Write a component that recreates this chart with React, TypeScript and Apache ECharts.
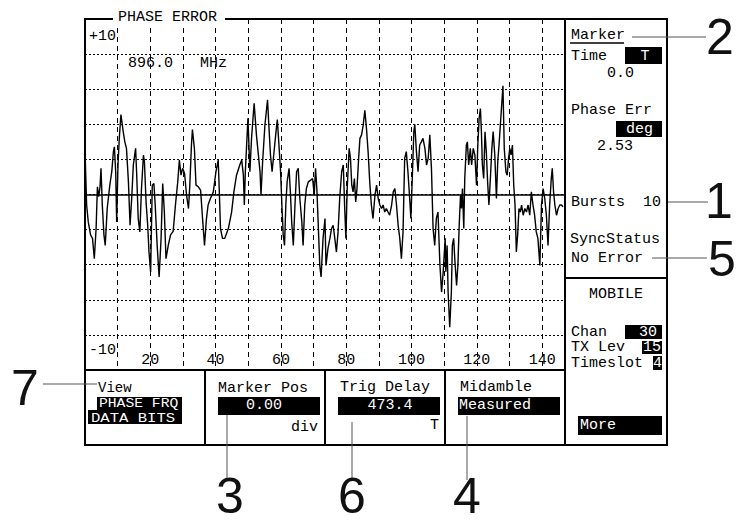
import React, { useEffect, useRef } from "react";
import * as echarts from "echarts";

// ---- data ----
const bitPositions = [
  0, 0.5, 1.0, 1.7, 2.3, 2.85, 3.4, 3.8, 4.2, 4.6, 4.9, 5.3, 5.8, 6.2, 6.8, 7.6, 8.2, 8.7, 9.0, 9.4, 9.7,
  10.1, 10.5, 11.0, 11.7, 12.2, 12.7, 13.3, 13.8, 14.3, 14.8, 15.5, 15.8, 16.3, 16.8, 17.3, 17.9, 18.2,
  18.7, 19.2, 19.6, 20.1, 20.6, 21.1, 21.5, 22.1, 22.7, 23.3, 23.8, 24.3, 24.8, 25.5, 26.2, 27.0, 27.7,
  28.4, 28.9, 29.4, 29.9, 30.5, 31.1, 31.7, 32.1, 32.6, 32.9, 33.5, 34.0, 34.7, 35.4, 36.0, 36.6,
  37.2, 37.7, 38.4, 39.3, 40.1, 40.8, 41.1, 41.5, 42.1, 42.8, 43.9, 44.9, 45.6, 46.4, 47.4, 48.0, 48.5,
  48.8, 49.1, 49.5, 49.9, 50.2, 50.5, 51.0, 51.8, 52.5, 53.0, 53.6, 53.9, 54.4, 55.1, 55.9, 56.3, 56.8,
  57.3, 57.8, 58.5, 58.9, 59.4, 59.9, 60.3, 60.7, 61.1, 61.5, 61.9, 62.5, 62.9, 63.3, 63.8, 64.3, 64.8,
  65.3, 65.8, 66.4, 66.8, 67.3, 67.8, 68.4, 69.1, 69.7, 70.2, 70.6, 71.0, 71.4, 71.9, 72.3, 72.9, 73.5,
  73.8, 74.4, 75.0, 75.5, 76.0, 76.5, 77.0, 77.5, 78.0, 78.6, 79.1, 79.5, 79.9, 80.3, 80.9, 81.3, 81.7,
  82.1, 82.5, 82.9, 83.3, 83.8, 84.2, 84.7, 85.2, 85.7, 86.2, 86.7, 87.2, 87.7, 88.2, 88.8, 89.3, 89.8,
  90.3, 90.8, 91.3, 91.8, 92.3, 92.8, 93.3, 93.9, 94.4, 94.9, 95.4, 95.9, 96.4, 96.9, 97.4, 97.9, 98.4,
  98.9, 99.5, 99.8, 100.3, 100.7, 101.0, 101.5, 102.0, 102.5, 103.0, 103.5, 104.1, 104.6, 105.1, 105.6,
  106.1, 106.6, 107.1, 107.6, 108.1, 108.7, 109.2, 109.7, 110.3, 110.5, 110.9, 111.2, 111.7, 112.2,
  112.5, 112.9, 113.3, 113.8, 114.2, 114.6, 115.0, 115.3, 115.6, 116.0, 116.3, 116.8, 117.1, 117.5,
  118.0, 118.4, 118.9, 119.4, 119.9, 120.3, 120.7, 121.1, 121.4, 121.7, 122.1, 122.5, 122.9, 123.3,
  123.7, 124.2, 124.6, 125.0, 125.5, 126.0, 126.4, 126.8, 127.2, 128.0, 128.4, 128.9, 129.3, 129.7,
  130.1, 130.5, 130.9, 131.3, 131.7, 132.1, 132.5, 132.9, 133.3, 133.7, 134.2, 134.7, 135.2, 135.7,
  136.2, 136.7, 137.2, 137.7, 138.2, 138.7, 139.3, 139.8, 140.3, 140.8, 141.3, 141.8, 142.3, 142.8,
  143.1, 143.5, 143.9, 144.4, 144.9, 145.4, 145.9, 146.4,
];

const phaseErrors = [
  2.53, -0.6, -1.56, -2.3, -2.5, -3.66, -1.94, 0.44, -0.13, 0.44, 1.49, -0.6, -2.3, -2.9, -0.8, 0.53, 1.3, 2.44, 2.72, 1.3, -1.56,
  1.68, 3.2, 4.56, 3.58, 3.0, 2.63, 0.72, -1.75, -0.23, 1.68, 2.63, 1.3, -1.37, -2.13, 0.34, 2.25, 1.87,
  -0.42, -1.75, -3.28, -4.42, 0.53, 0.63, -0.6, -2.9, -4.7, -2.5, 0.63, -1.0, -3.66, -2.9, -2.3, -2.1, -0.6,
  0.72, 1.96, 1.1, 1.49, 1.2, -0.04, -0.8, 0.53, 2.82, 3.7, 2.63, 0.53, 0.44, 0.25, -1.37, -2.9,
  -1.37, -0.6, -0.23, 0.15, 1.3, 1.96, 0.34, -1.94, -2.5, -2.5, -1.94, -1.0, 0.15, 1.1, 1.68, 1.96, 1.1,
  -0.6, 1.3, 2.82, 4.34, 2.82, 1.3, 3.2, 5.2, 3.4, 2.44, 1.3, 0.0, 1.87, 3.96, 5.4, 3.96, 2.25,
  1.3, 2.25, 3.58, 4.27, 2.82, 1.3, -0.6, -2.3, -2.9, -0.6, 0.72, 1.49, 0.15, -1.56, -2.9, -0.6, 1.3,
  1.49, -0.23, -1.56, -2.9, -0.6, 0.34, 0.72, 0.82, 0.91, -0.04, 1.49, 0.34, -1.56, -4.04, -4.7, -2.5, -1.37,
  -4.04, -3.09, -2.5, -1.94, -1.75, -2.5, -3.28, -2.13, -0.23, 1.3, 1.68, -0.6, -2.5, 0.34, 2.63, 2.06, 0.53,
  0.15, 0.91, -0.42, 0.34, 2.06, 3.2, 3.4, 3.96, 4.8, 3.77, 2.44, 0.72, -0.6, -1.37, -0.04, 0.53, -0.23,
  -0.6, -0.8, -0.6, -1.0, -0.8, -1.0, -1.18, -0.6, 0.15, 0.34, -0.6, -1.75, -2.5, -3.66, -2.13, 2.06, 2.44,
  1.3, -0.42, -1.37, 1.3, 3.58, 4.0, 2.44, 1.3, 2.82, 3.0, 3.2, 2.63, 1.68, 2.06, 3.4,
  1.49, -1.94, -2.9, -1.37, -1.0, -4.04, -5.56, -4.42, -2.5, -4.4, -2.9, -5.56, -7.56, -5.56,
  -2.9, -2.5, -3.85, -5.18, -4.04, -1.75, -0.04, -0.8, 0.34, -1.94, 0.91, 2.82, 3.0, 1.68,
  2.63, 1.68, 2.63, 2.25, 0.53, 2.82, 4.34, 4.9, 3.58, 1.68, 0.91, 3.58, 2.44, 0.72,
  -0.6, 1.1, 2.63, 3.58, 2.25, -0.23, 1.87, 2.82, 3.96, 6.2, 2.63, 1.3, 1.1, 2.06,
  2.63, 2.25, 2.82, 0.53, -0.6, -3.28, -2.3, -0.8, -1.0, -0.6, -1.18, -0.8, -1.0, -0.6,
  -1.18, 0.15, -0.6, -1.18, -2.13, -2.5, -4.04, -0.6, 0.34, -0.23, -1.18, -2.9, -0.6, 0.91,
  1.49, 0.15, -0.6, -1.18, -0.8, -0.6, -0.6, -0.7,
];

const xTickLabels = [20, 40, 60, 80, 100, 120, 140];
const yTopLabel = "+10";
const yBottomLabel = "-10";

const MONO = '"Liberation Mono", "DejaVu Sans Mono", monospace';
const SANS = '"Liberation Sans", Arial, sans-serif';

type Opt = { size?: number; fill?: string; align?: string; font?: string; z?: number; scaleX?: number };
const txt = (text: string, x: number, y: number, o: Opt = {}) => ({
  type: "text",
  z: o.z ?? 110,
  x,
  y,
  scaleX: o.scaleX ?? 1,
  style: {
    text,
    x: 0,
    y: 0,
    font: o.font ?? `${o.size ?? 15}px ${MONO}`,
    fill: o.fill ?? "#000",
    textAlign: o.align ?? "left",
    textVerticalAlign: "middle",
  },
});
const box = (x1: number, y1: number, x2: number, y2: number, fill = "#000", z = 100) => ({
  type: "rect",
  z,
  shape: { x: x1, y: y1, width: x2 - x1, height: y2 - y1 },
  style: { fill },
});
const ln = (x1: number, y1: number, x2: number, y2: number, stroke = "#000", w = 2) => ({
  type: "line",
  z: 105,
  shape: { x1, y1, x2, y2 },
  style: { stroke, lineWidth: w },
});
const big = (t: string, x: number, y: number) =>
  txt(t, x, y, { font: `50px ${SANS}`, align: "center", fill: "#111" });

export default function App() {
  const ref = useRef<HTMLDivElement>(null);
  useEffect(() => {
    document.body.style.margin = "0";
    const chart = echarts.init(ref.current!, null, { renderer: "svg" });
    const GRAY = "#555";
    const graphic: any[] = [
      // frame
      ln(85, 19, 113, 19),
      ln(225, 19, 668, 19),
      ln(85, 18, 85, 446),
      ln(667, 18, 667, 446),
      ln(84, 445, 668, 445),
      ln(85, 370, 565, 370),
      ln(565, 19, 565, 445),
      ln(565, 278, 667, 278),
      ln(205, 370, 205, 445),
      ln(325, 370, 325, 445),
      ln(445, 370, 445, 445),
      box(113, 9, 225, 28, "#fff", 96),
      txt("PHASE ERROR", 118, 17.5),
      txt("896.0   MHz", 128, 63),
      // right panel
      txt("Marker", 571, 35),
      ln(570, 43, 624, 43, "#000", 1.5),
      txt("Time", 571, 56),
      box(625, 47, 662, 64),
      txt("T", 645, 56, { fill: "#fff", align: "center" }),
      txt("0.0", 634, 73, { align: "right" }),
      txt("Phase Err", 571, 110),
      box(616, 121, 662, 137),
      txt("deg", 653, 129, { fill: "#fff", align: "right" }),
      txt("2.53", 633, 146, { align: "right" }),
      txt("Bursts", 571, 202),
      txt("10", 661, 202, { align: "right" }),
      txt("SyncStatus", 570, 239),
      txt("No Error", 571, 258),
      txt("MOBILE", 616, 294, { align: "center" }),
      txt("Chan", 571, 332),
      box(625, 325, 662, 339),
      txt("30", 657, 332, { fill: "#fff", align: "right" }),
      txt("TX Lev", 571, 347.5),
      box(642, 341, 662, 354),
      txt("15", 661, 347.5, { fill: "#fff", align: "right" }),
      txt("Timeslot", 571, 363),
      box(653, 356, 662, 370),
      txt("4", 657.5, 363, { fill: "#fff", align: "center" }),
      box(578, 416, 662, 435),
      txt("More", 580, 425, { fill: "#fff" }),
      // bottom panel
      txt("View", 98, 387.5, { size: 14 }),
      box(97, 397, 182, 410),
      box(88, 410, 182, 424),
      txt("PHASE FRQ", 99, 403.3, { fill: "#fff", size: 13, scaleX: 1.13 }),
      txt("DATA BITS", 91, 418.3, { fill: "#fff", size: 13, scaleX: 1.2 }),
      txt("Marker Pos", 218, 388),
      box(218, 397, 320, 415),
      txt("0.00", 264, 405, { align: "center", fill: "#fff" }),
      txt("div", 318, 427, { align: "right" }),
      txt("Trig Delay", 340, 387),
      box(338, 397, 440, 415),
      txt("473.4", 390, 405, { align: "center", fill: "#fff" }),
      txt("T", 439, 425, { align: "right" }),
      txt("Midamble", 460, 387),
      box(458, 397, 560, 415),
      txt("Measured", 459, 405, { fill: "#fff" }),
      // callouts
      ln(632, 37, 706, 37, GRAY, 1),
      ln(668, 202, 708, 202, GRAY, 1),
      ln(652, 258, 707, 258, GRAY, 1),
      ln(43, 384, 97, 384, GRAY, 1),
      ln(227, 415, 227, 480, GRAY, 1),
      ln(352, 422, 352, 480, GRAY, 1),
      ln(467, 416, 467, 480, GRAY, 1),
      big("2", 720, 37),
      big("1", 719, 201),
      big("5", 722, 259),
      big("7", 25, 388),
      big("3", 230, 496),
      big("6", 352, 496),
      big("4", 467, 496),
    ];

    chart.setOption({
      animation: false,
      backgroundColor: "#fff",
      grid: { left: 85, top: 19, width: 480, height: 351, containLabel: false },
      xAxis: {
        type: "value",
        min: 0,
        max: 147,
        interval: 10,
        axisLine: { show: false },
        axisTick: { show: false },
        splitLine: { show: true, lineStyle: { color: "#000", width: 1, type: [5, 4] } },
        axisLabel: {
          inside: true,
          margin: 2,
          color: "#000",
          fontFamily: MONO,
          fontSize: 15,
          formatter: (v: number) => (xTickLabels.includes(v) ? String(v) : ""),
        },
      },
      yAxis: {
        type: "value",
        min: -10,
        max: 10,
        interval: 2,
        axisLine: { show: false },
        axisTick: { show: false },
        splitLine: { show: true, lineStyle: { color: "#000", width: 1, type: [2, 2] } },
        axisLabel: {
          inside: true,
          margin: 4,
          color: "#000",
          fontFamily: MONO,
          fontSize: 15,
          showMinLabel: true,
          showMaxLabel: true,
          formatter: (v: number) =>
            v === 10 ? `{t|${yTopLabel}}` : v === -10 ? `{b|${yBottomLabel}}` : "",
          rich: {
            t: { padding: [34, 0, 0, 0], fontFamily: MONO, fontSize: 15, color: "#000" },
            b: { padding: [0, 0, 40, 0], fontFamily: MONO, fontSize: 15, color: "#000" },
          },
        },
      },
      series: [
        {
          type: "line",
          data: bitPositions.map((x, i) => [x, phaseErrors[i]]),
          showSymbol: false,
          symbol: "none",
          lineStyle: { color: "#000", width: 1.4 },
          z: 3,
          markLine: {
            silent: true,
            symbol: "none",
            label: { show: false },
            lineStyle: { color: "#000", width: 1.6, type: "solid" },
            data: [{ yAxis: 0 }],
          },
        },
      ],
      graphic,
    });
    return () => chart.dispose();
  }, []);
  return (
    <div
      ref={ref}
      style={{ position: "absolute", left: 0, top: 0, width: 746, height: 525 }}
    />
  );
}
